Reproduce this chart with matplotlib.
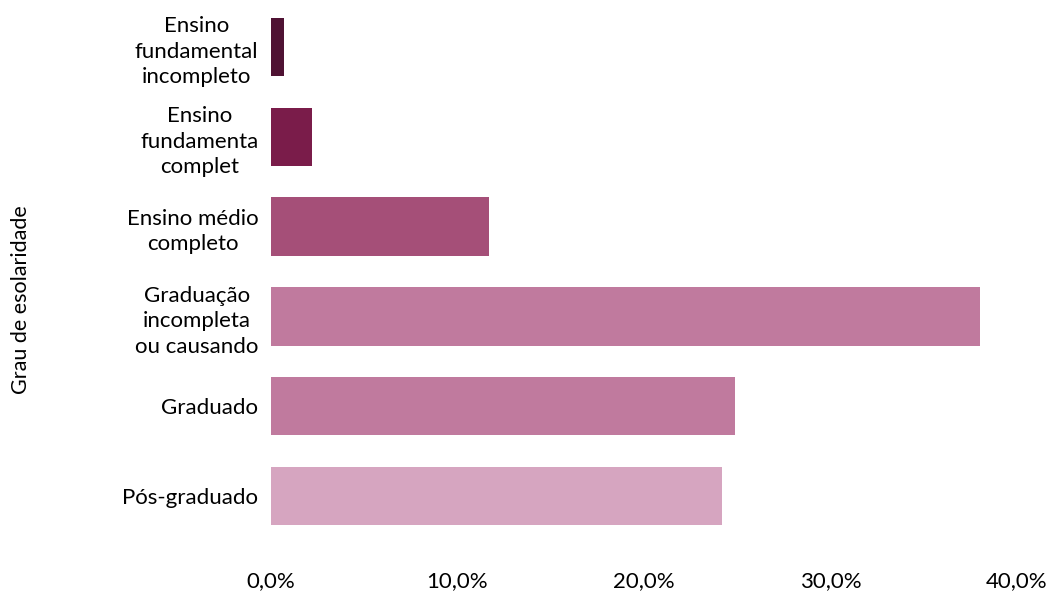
import matplotlib
matplotlib.use("Agg")
import matplotlib.pyplot as plt
from matplotlib.ticker import FuncFormatter

plt.rcParams['font.family'] = ['Lato', 'DejaVu Sans']

categorias = ["Ensino\nfundamental\nincompleto", "Ensino\nfundamenta\ncomplet",
              "Ensino médio\ncompleto", "Graduação\nincompleta\nou causando",
              "Graduado", "Pós-graduado"]
percentuais = [0.7, 2.2, 11.7, 38.0, 24.9, 24.2]
cores = ["#4f1233", "#7a1c4a", "#a54f78", "#c07a9e", "#c07a9e", "#d6a5c0"]

fig = plt.figure(figsize=(10.5, 5.98), dpi=100)
ax = fig.add_axes([0.258, 0.0953, 0.9686 - 0.258, 0.9967 - 0.0953])

pos = list(range(len(categorias)))
ax.barh(pos, percentuais, height=0.65, color=cores)
ax.set_ylim(len(categorias) - 0.5, -0.5)
ax.set_xlim(0, 40)
ax.set_xticks([0, 10, 20, 30, 40])
ax.xaxis.set_major_formatter(FuncFormatter(lambda v, p: f"{v:.1f}%".replace(".", ",")))
ax.set_yticks(pos)
ax.set_yticklabels(categorias, multialignment='center', linespacing=1.35)

for s in ax.spines.values():
    s.set_visible(False)
ax.tick_params(axis='both', length=0, labelsize=16, colors='#000000')
ax.tick_params(axis='x', pad=22)
ax.tick_params(axis='y', pad=9)

fig.text(0.02, 1 - 300 / 598, "Grau de esolaridade", rotation=90,
         ha='center', va='center', fontsize=15.5)

fig.savefig("out.png", dpi=100)
